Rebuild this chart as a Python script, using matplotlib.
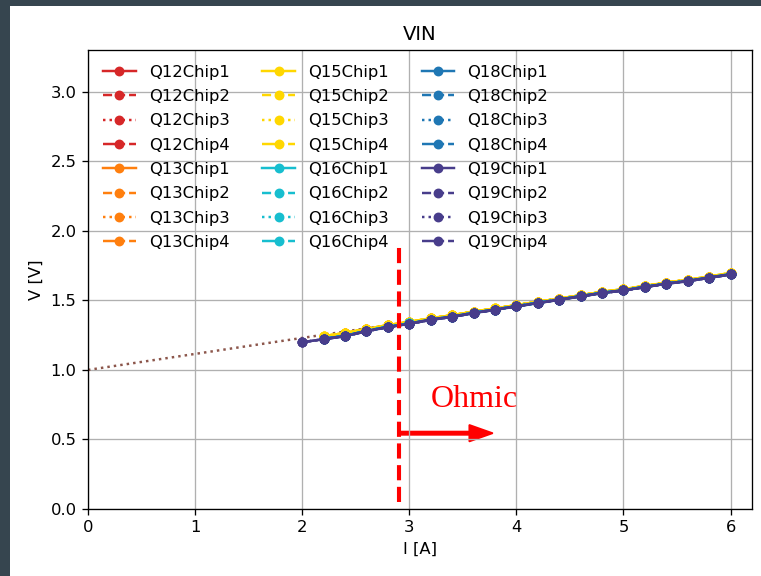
import matplotlib
matplotlib.use('Agg')
import matplotlib.pyplot as plt
from matplotlib.patches import Rectangle

# corriente medida (A)
corriente = [2.2, 2.4, 2.6, 2.8, 3.0, 3.2, 3.4, 3.6, 3.8, 4.0,
             4.2, 4.4, 4.6, 4.8, 5.0, 5.2, 5.4, 5.6, 5.8, 6.0]
corriente_q19 = [2.0] + corriente

# tension VIN por modulo (los 4 chips se solapan en la imagen)
v_q12 = [1.225, 1.246, 1.282, 1.311, 1.335, 1.363, 1.384, 1.411, 1.435, 1.459,
         1.483, 1.507, 1.531, 1.555, 1.574, 1.598, 1.622, 1.641, 1.665, 1.689]
v_q13 = [1.240, 1.262, 1.292, 1.320, 1.343, 1.370, 1.392, 1.418, 1.441, 1.465,
         1.489, 1.512, 1.536, 1.560, 1.580, 1.603, 1.627, 1.647, 1.670, 1.694]
v_q15 = [1.243, 1.265, 1.295, 1.322, 1.345, 1.372, 1.393, 1.419, 1.442, 1.466,
         1.490, 1.513, 1.537, 1.561, 1.581, 1.604, 1.628, 1.648, 1.671, 1.697]
v_q16 = [1.224, 1.245, 1.281, 1.310, 1.334, 1.362, 1.383, 1.410, 1.434, 1.458,
         1.482, 1.506, 1.530, 1.554, 1.573, 1.597, 1.621, 1.640, 1.664, 1.688]
v_q18 = [1.223, 1.244, 1.280, 1.309, 1.333, 1.362, 1.383, 1.410, 1.434, 1.458,
         1.482, 1.506, 1.530, 1.554, 1.573, 1.597, 1.621, 1.640, 1.664, 1.688]
v_q19 = [1.199, 1.221, 1.242, 1.278, 1.307, 1.331, 1.360, 1.381, 1.408, 1.432,
         1.456, 1.480, 1.504, 1.528, 1.552, 1.571, 1.595, 1.619, 1.638, 1.662, 1.686]

# ajuste lineal extrapolado
ajuste_i = [0.0, 6.0]
ajuste_v = [1.0, 1.69]

modulos = ['Q12', 'Q13', 'Q15', 'Q16', 'Q18', 'Q19']
colores = ['#d62728', '#ff7f0e', '#ffd700', '#17becf', '#1f77b4', '#483d8b']
chips = ['Chip1', 'Chip2', 'Chip3', 'Chip4']
estilos = ['-', '--', ':', '-.']

datos = {
    'Q12': (corriente, v_q12),
    'Q13': (corriente, v_q13),
    'Q15': (corriente, v_q15),
    'Q16': (corriente, v_q16),
    'Q18': (corriente, v_q18),
    'Q19': (corriente_q19, v_q19),
}

fig = plt.figure(figsize=(761 / 118, 576 / 118), dpi=118, facecolor='#36454f')
fig.patches.append(Rectangle((10 / 761, 0), 1, (576 - 6) / 576,
                             transform=fig.transFigure, facecolor='white',
                             edgecolor='none', zorder=-1))
ax = fig.add_axes([88 / 761, 67 / 576, 664 / 761, 459 / 576])

ax.plot(ajuste_i, ajuste_v, ':', color='#8c564b', lw=1.5)

for m, c in zip(modulos, colores):
    x, y = datos[m]
    for chip, ls in zip(chips, estilos):
        ax.plot(x, y, ls, color=c, marker='o', markersize=5, label=m + chip)

ax.plot([2.9, 2.9], [0.05, 1.9], '--', color='red', lw=2.5)
ax.arrow(2.9, 0.545, 0.88, 0, width=0.024, head_width=0.12, head_length=0.22,
         length_includes_head=True, color='red')
ax.text(3.2, 0.73, 'Ohmic', color='red', fontsize=19.5, family='Liberation Serif')

ax.set_xlim(0, 6.2)
ax.set_ylim(0, 3.3)
ax.set_title('VIN')
ax.set_xlabel('I [A]')
ax.set_ylabel('V [V]')
ax.grid(True)
ax.legend(loc='upper left', ncol=3, frameon=False, labelspacing=0.57)

fig.savefig('out.png', dpi=118, facecolor=fig.get_facecolor())
